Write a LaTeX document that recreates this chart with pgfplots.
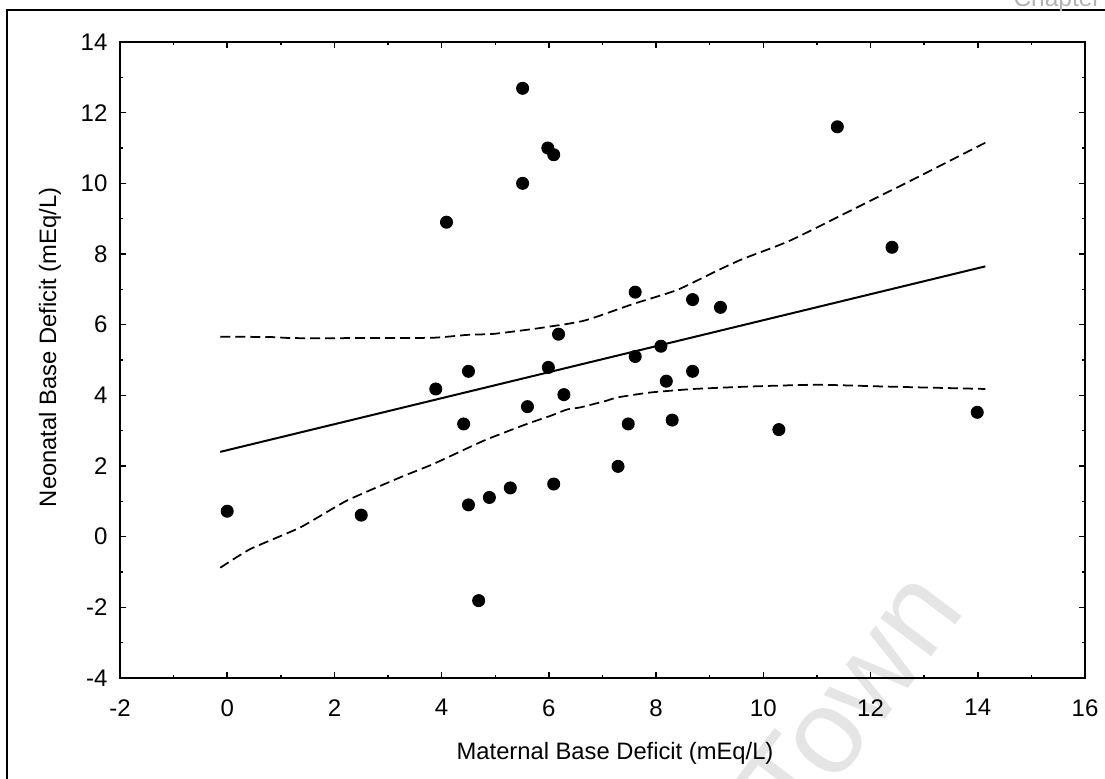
\documentclass[border=0pt]{standalone}
\usepackage{pgfplots}
\pgfplotsset{compat=1.18}
\usepackage{fontspec}
\setmainfont{Liberation Sans}
\pgfplotstableread{
x y
0.00 0.72
2.50 0.61
3.89 4.18
4.09 8.90
4.41 3.19
4.50 4.68
4.50 0.90
4.69 -1.81
4.89 1.11
5.28 1.38
5.51 12.69
5.51 10.00
5.60 3.68
5.98 11.00
6.09 10.81
5.99 4.79
6.18 5.73
6.09 1.49
6.28 4.02
7.29 1.99
7.48 3.19
7.61 6.92
7.61 5.10
8.09 5.39
8.19 4.40
8.30 3.30
8.68 6.71
8.68 4.68
9.20 6.49
10.29 3.03
11.38 11.60
12.40 8.19
13.99 3.52
}\pointsdata
\pgfplotstableread{
x y
-0.13 5.66
0.80 5.65
1.23 5.62
2.50 5.62
3.84 5.63
4.47 5.71
4.97 5.74
5.72 5.88
6.03 5.95
6.34 6.02
6.65 6.11
6.96 6.26
7.58 6.59
8.39 6.98
9.14 7.53
9.60 7.85
10.19 8.19
10.50 8.38
11.00 8.75
11.50 9.13
12.25 9.70
12.56 9.93
13.30 10.50
14.14 11.15
}\upperci
\pgfplotstableread{
x y
-0.13 -0.88
0.43 -0.35
1.36 0.26
2.23 1.02
3.23 1.68
3.85 2.06
4.79 2.72
5.59 3.19
6.03 3.42
6.34 3.60
6.59 3.66
7.08 3.85
7.27 3.94
7.89 4.08
8.70 4.18
9.76 4.25
11.00 4.30
12.25 4.25
14.14 4.18
}\lowerci
\begin{document}
\begin{tikzpicture}
\useasboundingbox (-48pt,-40pt) rectangle (394pt,271.2pt);
% outer frame
\draw[line width=0.8pt] (-45.2pt,-60pt) -- (-45.2pt,267.2pt) -- (420pt,267.2pt);
% faint marks
\node[anchor=base west, text=black!30, font=\fontsize{9.8}{11}\selectfont, inner sep=0pt] at (357.2pt,268.4pt) {Chapter};
\node[rotate=53, text=black!10, font=\fontsize{48}{52}\selectfont, inner sep=0pt] at (292pt,-8pt) {Town};
\begin{axis}[
  at={(0,0)}, anchor=south west,
  scale only axis, width=386pt, height=254.4pt,
  xmin=-2, xmax=16, ymin=-4, ymax=14,
  xtick={-2,0,...,16}, ytick={-4,-2,...,14},
  minor tick num=1,
  tick align=inside,
  major tick length=2.4pt, minor tick length=1.2pt,
  every tick/.style={black, line width=0.6pt},
  axis line style={line width=0.8pt},
  tick label style={font=\fontsize{9.6}{11}\selectfont},
  /pgf/number format/assume math mode=true,
  xticklabel style={yshift=-5pt},
  yticklabel style={xshift=-1.5pt},
  label style={font=\fontsize{9.5}{11}\selectfont},
  xlabel={Maternal Base Deficit (mEq/L)},
  ylabel={Neonatal Base Deficit (mEq/L)},
  xlabel style={at={(axis description cs:0.513,-0.118)}, anchor=center},
  ylabel style={at={(axis description cs:-0.0725,0.52)}, anchor=center},
  clip=false,
]
\addplot[only marks, mark=*, mark size=2.4pt, black] table[x=x,y=y] {\pointsdata};
\addplot[black, line width=0.8pt] coordinates {(-0.13,2.40) (14.14,7.65)};
\addplot[black, line width=0.7pt, dash pattern=on 4pt off 2pt, smooth, tension=0.3] table[x=x,y=y] {\upperci};
\addplot[black, line width=0.7pt, dash pattern=on 4pt off 2pt, smooth, tension=0.3] table[x=x,y=y] {\lowerci};
\end{axis}
\end{tikzpicture}
\end{document}
